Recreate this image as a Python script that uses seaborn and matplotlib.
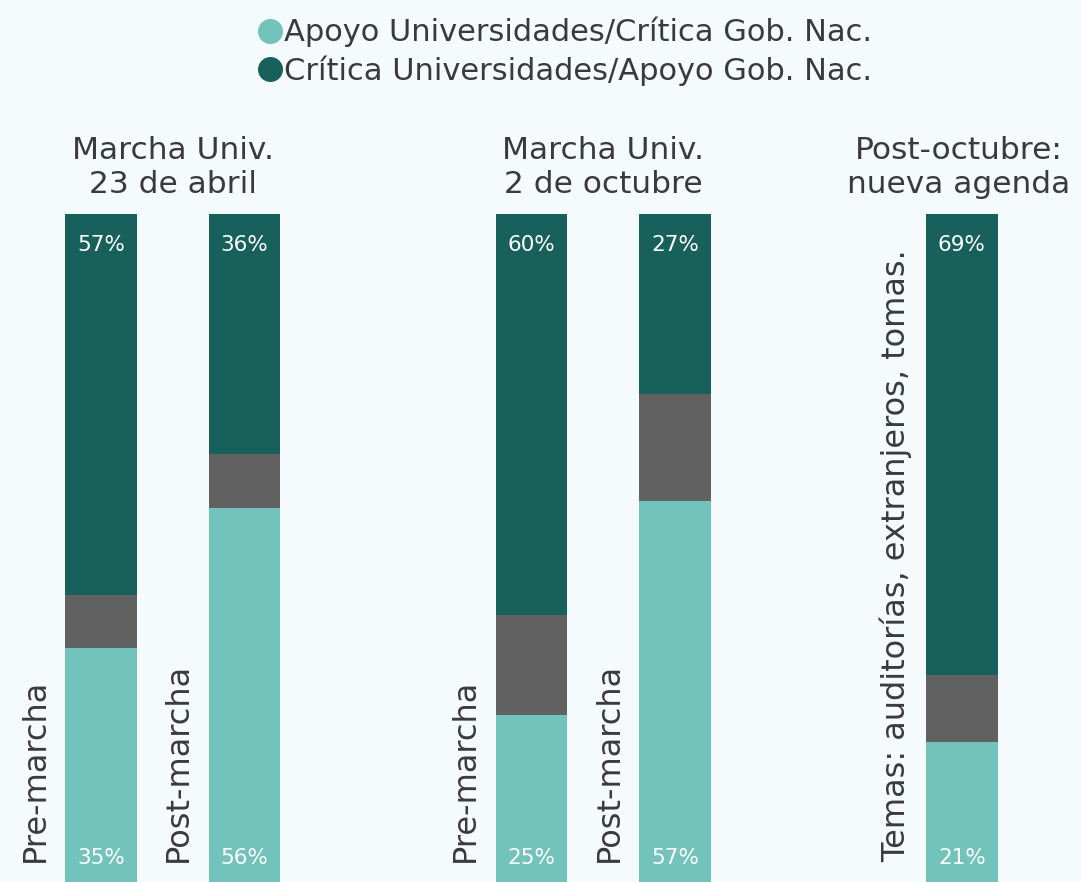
import numpy as np
import pandas as pd
import matplotlib.pyplot as plt
import seaborn as sns
from matplotlib.lines import Line2D

# values (percent)
etiquetas = ["Pre-marcha", "Post-marcha", "Pre-marcha", "Post-marcha",
             "Temas: auditorías, extranjeros, tomas."]
posiciones = [0, 1, 3, 4, 6]
apoyo_univ = [35, 56, 25, 57, 21]
neutral = [8, 8, 15, 16, 10]
critica_univ = [57, 36, 60, 27, 69]

grupos = ["Marcha Univ.\n23 de abril", "Marcha Univ.\n2 de octubre",
          "Post-octubre:\nnueva agenda"]
grupo_x = [0.5, 3.5, 5.98]

serie_labels = ["Apoyo Universidades/Crítica Gob. Nac.",
                "Crítica Universidades/Apoyo Gob. Nac."]

c_light = "#72c3bc"
c_dark = "#17605b"
c_gray = "#616161"
bg = "#f5fafd"
txt = "#3a3a3a"

df = pd.DataFrame({"pos": posiciones, "apoyo": apoyo_univ,
                   "neutral": neutral, "critica": critica_univ})
df["hasta_neutral"] = df["apoyo"] + df["neutral"]
df["total"] = df["hasta_neutral"] + df["critica"]

sns.set_style("white")
plt.rcParams["font.family"] = ["DejaVu Sans"]

fig = plt.figure(figsize=(10.81, 8.82), dpi=100, facecolor=bg)
ax = fig.add_axes([0, 0, 1, 668 / 882])
ax.set_facecolor(bg)

# stacked bars drawn as overlaid cumulative bars
sns.barplot(data=df, x="pos", y="total", native_scale=True, width=0.5,
            color=c_dark, saturation=1, linewidth=0, ax=ax)
sns.barplot(data=df, x="pos", y="hasta_neutral", native_scale=True, width=0.5,
            color=c_gray, saturation=1, linewidth=0, ax=ax)
sns.barplot(data=df, x="pos", y="apoyo", native_scale=True, width=0.5,
            color=c_light, saturation=1, linewidth=0, ax=ax)

ax.set_xlim(-0.704, 6.83)
ax.set_ylim(0, 100)
ax.set_xticks([])
ax.set_yticks([])
ax.set_xlabel("")
ax.set_ylabel("")
sns.despine(ax=ax, left=True, bottom=True)

for p, a, c, t, lab in zip(df["pos"], df["apoyo"], df["critica"],
                           df["total"], etiquetas):
    ax.text(p, t - 4.6, f"{c}%", ha="center", va="center",
            color="white", fontsize=15.5)
    ax.text(p, 3.6, f"{a}%", ha="center", va="center",
            color="white", fontsize=15.5)
    ax.text(p - 0.46, 3.0, lab, rotation=90, ha="center", va="bottom",
            color=txt, fontsize=23)

for gx, g in zip(grupo_x, grupos):
    ax.text(gx, 102.2, g, ha="center", va="bottom", color=txt,
            fontsize=22.5, linespacing=1.25, clip_on=False)

handles = [Line2D([], [], marker="o", linestyle="", markersize=18,
                  markerfacecolor=c, markeredgecolor="none")
           for c in (c_light, c_dark)]
fig.legend(handles, serie_labels, loc="upper center",
           bbox_to_anchor=(0.523, 1.012), frameon=False, fontsize=22,
           handlelength=0.75, handletextpad=0.1, labelspacing=0.25,
           labelcolor=txt)

fig.savefig("out.png", dpi=100, facecolor=bg)
